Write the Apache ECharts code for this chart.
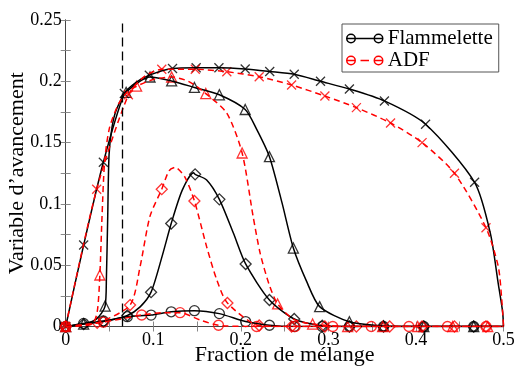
<!DOCTYPE html>
<html><head><meta charset="utf-8">
<script src="https://cdn.jsdelivr.net/npm/echarts@6/dist/echarts.min.js"></script>
<style>html,body{margin:0;padding:0;background:#fff}#c{width:514px;height:369px}</style>
</head><body><div id="c"></div><script>
// ---- tick labels ----
const xTickLabels = ['0', '0.1', '0.2', '0.3', '0.4', '0.5'];
const yTickLabels = ['0', '0.05', '0.1', '0.15', '0.2', '0.25'];
const vlineX = 0.065;

// ---- Flammelette (black, solid) ----
const flamCross_marks = [[0,0],[0.0205,0.0665],[0.043,0.134],[0.067,0.190],[0.0955,0.205],[0.122,0.2105],[0.149,0.211],[0.175,0.211],[0.205,0.210],[0.233,0.208],[0.261,0.2057],[0.291,0.200],[0.324,0.1937],[0.364,0.184],[0.411,0.165],[0.467,0.1176]];
const flamCross_extra = [[0.08,0.199],[0.485,0.076],[0.494,0.035],[0.499,0.012],[0.5,0]];

const flamTri_marks = [[0,0],[0.0205,0.002],[0.045,0.0167],[0.069,0.191],[0.0963,0.2035],[0.121,0.2003],[0.147,0.195],[0.1755,0.189],[0.205,0.177],[0.2327,0.1385],[0.260,0.064],[0.290,0.0162],[0.324,0.0039],[0.363,0.0005],[0.409,0],[0.466,0]];
const flamTri_extra = [[0.035,0.006],[0.0465,0.04],[0.048,0.09],[0.0495,0.14],[0.053,0.163],[0.058,0.177],[0.218,0.161],[0.247,0.101],[0.275,0.037],[0.5,0]];

const flamDia_marks = [[0,0],[0.0205,0.002],[0.043,0.004],[0.0704,0.009],[0.0975,0.028],[0.1205,0.084],[0.1478,0.1241],[0.1755,0.1037],[0.2055,0.051],[0.2327,0.0216],[0.261,0.0061],[0.293,0.0007],[0.324,0],[0.363,0],[0.409,0],[0.466,0]];
const flamDia_extra = [[0.085,0.016],[0.11,0.057],[0.133,0.111],[0.146,0.1255],[0.161,0.1195],[0.1916,0.076],[0.5,0]];

const flamCirc_marks = [[0,0],[0.0205,0.0025],[0.043,0.0045],[0.0704,0.008],[0.0975,0.0093],[0.1205,0.012],[0.147,0.0129],[0.1755,0.0105],[0.2055,0.004],[0.2327,0.001],[0.261,0],[0.293,0],[0.324,0],[0.363,0],[0.409,0],[0.466,0]];
const flamCirc_extra = [[0.5,0]];

// ---- ADF (red, dashed) ----
const adfCross_marks = [[0,0],[0.0354,0.112],[0.0716,0.189],[0.1097,0.2098],[0.148,0.2098],[0.184,0.2078],[0.221,0.2037],[0.258,0.197],[0.296,0.188],[0.332,0.1785],[0.371,0.166],[0.407,0.150],[0.444,0.125],[0.480,0.0806]];
const adfCross_extra = [[0.09,0.204],[0.494,0.049],[0.498,0.022],[0.5,0]];

const adfTri_marks = [[0,0],[0.039,0.042],[0.081,0.196],[0.121,0.2035],[0.160,0.190],[0.2015,0.1415],[0.242,0.0184],[0.282,0.002],[0.322,0],[0.362,0],[0.402,0],[0.442,0],[0.482,0]];
const adfTri_extra = [[0.03,0.002],[0.036,0.012],[0.0415,0.09],[0.0445,0.135],[0.05,0.162],[0.06,0.181],[0.07,0.191],[0.1,0.2015],[0.14,0.200],[0.184,0.174],[0.214,0.09],[0.222,0.060],[0.232,0.035],[0.26,0.006],[0.5,0]];

const adfDia_marks = [[0,0],[0.036,0.003],[0.0735,0.0175],[0.1097,0.112],[0.147,0.1024],[0.1847,0.0192],[0.221,0.0008],[0.258,0],[0.296,0],[0.332,0],[0.37,0],[0.407,0],[0.444,0],[0.48,0]];
const adfDia_extra = [[0.085,0.049],[0.0963,0.09],[0.118,0.127],[0.125,0.1298],[0.136,0.122],[0.161,0.065],[0.1726,0.038],[0.5,0]];

const adfCirc_marks = [[0,0],[0.043,0.0035],[0.0868,0.0094],[0.1306,0.0113],[0.1745,0.001],[0.218,0],[0.262,0],[0.305,0],[0.349,0],[0.392,0],[0.436,0],[0.48,0]];
const adfCirc_extra = [[0.11,0.0113],[0.1535,0.0053],[0.5,0]];

// ---- build ----
const CROSS = 'path://M0,0L10,10M0,10L10,0';
const FONT = 'Liberation Serif';
const BLACK = '#000', RED = '#ff0000';

function curve(marks, extra, color, dashed, symbol, size) {
  const pts = marks.concat(extra).sort((a, b) => a[0] - b[0]);
  return [
    { type: 'line', name: dashed ? 'ADF-l' : 'Flam-l', data: pts, showSymbol: false, smooth: 0.25,
      lineStyle: { color: color, width: 1.5, type: dashed ? [6, 4] : 'solid' }, silent: true, animation: false },
    { type: 'scatter', name: dashed ? 'ADF-m' : 'Flam-m', data: marks, symbol: symbol, symbolSize: size,
      itemStyle: { color: 'rgba(0,0,0,0)', borderColor: color, borderWidth: 1.3 }, silent: true, animation: false }
  ];
}

const series = [].concat(
  curve(flamCross_marks, flamCross_extra, BLACK, false, CROSS, 9),
  curve(flamTri_marks, flamTri_extra, BLACK, false, 'triangle', 10),
  curve(flamDia_marks, flamDia_extra, BLACK, false, 'diamond', 11),
  curve(flamCirc_marks, flamCirc_extra, BLACK, false, 'circle', 10),
  curve(adfCross_marks, adfCross_extra, RED, true, CROSS, 9),
  curve(adfTri_marks, adfTri_extra, RED, true, 'triangle', 10),
  curve(adfDia_marks, adfDia_extra, RED, true, 'diamond', 11),
  curve(adfCirc_marks, adfCirc_extra, RED, true, 'circle', 10)
);
series.push({ type: 'line', name: 'Flammelette', data: [], itemStyle: { color: BLACK }, lineStyle: { color: BLACK } });
series.push({ type: 'line', name: 'ADF', data: [], itemStyle: { color: RED }, lineStyle: { color: RED },
  markLine: { silent: true, symbol: 'none', precision: 4, label: { show: false }, animation: false,
    lineStyle: { color: BLACK, type: [9, 5], width: 1.3 }, data: [{ xAxis: vlineX }] } });

function fmt(labels) {
  return v => { for (const l of labels) if (Math.abs(Number(l) - v) < 1e-6) return l; return ''; };
}

const ICON_SOLID = 'path://M1,5a4,4 0 1,0 8,0a4,4 0 1,0 -8,0M1,5L35,5M27,5a4,4 0 1,0 8,0a4,4 0 1,0 -8,0';
const ICON_DASH = 'path://M1,5a4,4 0 1,0 8,0a4,4 0 1,0 -8,0M1,5L9,5M14,5L22,5M27,5L35,5M27,5a4,4 0 1,0 8,0a4,4 0 1,0 -8,0';

const axisLine = { show: true, lineStyle: { color: '#444', width: 1 } };
const tick = { show: true, inside: true, length: 5, lineStyle: { color: '#888', width: 1 } };

const option = {
  animation: false,
  backgroundColor: '#fff',
  grid: { left: 65.7, right: 10.5, top: 20, bottom: 42.5, containLabel: false, outerBoundsMode: 'none' },
  xAxis: [
    { type: 'value', min: 0, max: 0.5, interval: 0.05, position: 'bottom',
      axisLine: axisLine, axisTick: tick, splitLine: { show: false },
      axisLabel: { interval: 0, margin: 5, formatter: fmt(xTickLabels), fontFamily: FONT, fontSize: 18, color: '#000', showMaxLabel: true, showMinLabel: true },
      name: 'Fraction de mélange', nameLocation: 'middle', nameGap: 18, nameMoveOverlap: false,
      nameTextStyle: { fontFamily: FONT, fontSize: 22, color: '#000', verticalAlign: 'top' } },
    { type: 'value', min: 0, max: 0.5, interval: 0.05, position: 'top',
      axisLine: axisLine, axisTick: tick, axisLabel: { show: false }, splitLine: { show: false } }
  ],
  yAxis: [
    { type: 'value', min: 0, max: 0.25, interval: 0.025, position: 'left',
      axisLine: axisLine, axisTick: tick, splitLine: { show: false },
      axisLabel: { interval: 0, margin: 4, formatter: fmt(yTickLabels), fontFamily: FONT, fontSize: 18, color: '#000' },
      name: 'Variable d’avancement', nameLocation: 'middle', nameGap: 37, nameMoveOverlap: false,
      nameTextStyle: { fontFamily: FONT, fontSize: 22, color: '#000' } },
    { type: 'value', min: 0, max: 0.25, interval: 0.025, position: 'right',
      axisLine: axisLine, axisTick: tick, axisLabel: { show: false }, splitLine: { show: false } }
  ],
  legend: {
    orient: 'vertical', left: 342, top: 24, backgroundColor: '#fff', borderColor: '#555', borderWidth: 1,
    padding: [4, 6, 1, 4], itemGap: 1, itemWidth: 36, itemHeight: 10,
    textStyle: { fontFamily: FONT, fontSize: 21, color: '#000', lineHeight: 19 },
    data: [
      { name: 'Flammelette', icon: ICON_SOLID, itemStyle: { color: 'rgba(0,0,0,0)', borderColor: BLACK, borderWidth: 1.5 } },
      { name: 'ADF', icon: ICON_DASH, itemStyle: { color: 'rgba(0,0,0,0)', borderColor: RED, borderWidth: 1.5 } }
    ]
  },
  series: series
};

const chart = echarts.init(document.getElementById('c'), null, { renderer: 'canvas' });
chart.setOption(option);
</script></body></html>
